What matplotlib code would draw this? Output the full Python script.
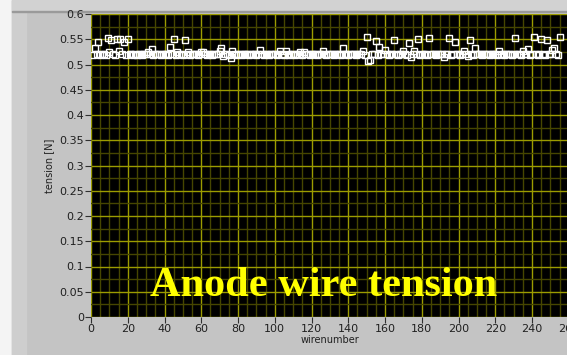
import numpy as np
import matplotlib.pyplot as plt
from matplotlib.patches import Rectangle

# wire tension measurements [N], wires 1..255
wires = list(range(1, 256))
tension = [
    0.519, 0.532, 0.520, 0.545, 0.519, 0.520, 0.521, 0.519, 0.553, 0.525, 0.549, 0.520, 0.519, 0.550, 0.527,
    0.550, 0.520, 0.545, 0.519, 0.550, 0.520, 0.521, 0.519, 0.520, 0.519, 0.521, 0.520, 0.519, 0.520, 0.521,
    0.525, 0.520, 0.531, 0.519, 0.520, 0.521, 0.520, 0.519, 0.520, 0.521, 0.520, 0.519, 0.534, 0.520, 0.550,
    0.519, 0.525, 0.520, 0.521, 0.519, 0.549, 0.520, 0.525, 0.519, 0.520, 0.521, 0.520, 0.519, 0.520, 0.525,
    0.525, 0.520, 0.519, 0.520, 0.521, 0.519, 0.520, 0.521, 0.520, 0.527, 0.532, 0.517, 0.520, 0.521, 0.519,
    0.512, 0.527, 0.520, 0.519, 0.521, 0.520, 0.519, 0.520, 0.521, 0.520, 0.519, 0.520, 0.521, 0.520, 0.519,
    0.520, 0.529, 0.520, 0.519, 0.521, 0.520, 0.519, 0.520, 0.521, 0.520, 0.519, 0.520, 0.527, 0.521, 0.519,
    0.527, 0.520, 0.519, 0.521, 0.520, 0.519, 0.520, 0.521, 0.524, 0.519, 0.525, 0.520, 0.521, 0.519, 0.520,
    0.521, 0.520, 0.519, 0.520, 0.521, 0.526, 0.520, 0.519, 0.520, 0.521, 0.520, 0.519, 0.520, 0.521, 0.520,
    0.519, 0.532, 0.520, 0.521, 0.519, 0.520, 0.521, 0.520, 0.519, 0.520, 0.521, 0.520, 0.527, 0.519, 0.555,
    0.507, 0.508, 0.520, 0.521, 0.547, 0.519, 0.534, 0.520, 0.521, 0.529, 0.520, 0.519, 0.520, 0.521, 0.549,
    0.520, 0.519, 0.520, 0.521, 0.526, 0.520, 0.519, 0.543, 0.515, 0.520, 0.526, 0.521, 0.550, 0.519, 0.520,
    0.521, 0.520, 0.519, 0.553, 0.520, 0.521, 0.520, 0.519, 0.520, 0.521, 0.520, 0.515, 0.520, 0.521, 0.552,
    0.519, 0.520, 0.545, 0.521, 0.520, 0.519, 0.520, 0.526, 0.521, 0.517, 0.549, 0.520, 0.519, 0.532, 0.520,
    0.521, 0.520, 0.519, 0.520, 0.521, 0.520, 0.519, 0.520, 0.521, 0.520, 0.519, 0.526, 0.520, 0.521, 0.519,
    0.520, 0.521, 0.520, 0.519, 0.520, 0.553, 0.521, 0.520, 0.519, 0.527, 0.520, 0.521, 0.531, 0.519, 0.520,
    0.554, 0.520, 0.519, 0.521, 0.550, 0.520, 0.519, 0.548, 0.520, 0.521, 0.528, 0.533, 0.520, 0.519, 0.555,
]
xticks = list(range(0, 261, 20))
yticks = [0, 0.05, 0.1, 0.15, 0.2, 0.25, 0.3, 0.35, 0.4, 0.45, 0.5, 0.55, 0.6]
ytick_labels = ["0", "0.05", "0.1", "0.15", "0.2", "0.25", "0.3", "0.35", "0.4", "0.45", "0.5", "0.55", "0.6"]

W, H = 567, 355
fig = plt.figure(figsize=(W / 100, H / 100), dpi=100)
fig.patch.set_facecolor("#f4f4f4")

# grey panel frame
fig.patches.append(Rectangle((12 / W, 0), 1, 1, transform=fig.transFigure, color="#c4c4c4", zorder=-5))
fig.patches.append(Rectangle((12 / W, 0), 14 / W, 1, transform=fig.transFigure, color="#cecece", zorder=-5))
fig.patches.append(Rectangle((12 / W, 1 - 11 / H), 1, 11 / H, transform=fig.transFigure, color="#d2d2d2", zorder=-5))
fig.patches.append(Rectangle((12 / W, 1 - 12 / H), 1, 1.5 / H, transform=fig.transFigure, color="#9a9a9a", zorder=-5))

ax = fig.add_axes([91 / W, 1 - 317 / H, 260 * 1.8375 / W, 303 / H])
ax.set_zorder(2)
ax.set_facecolor("black")
ax.plot(wires, tension, ls="none", marker="s", markersize=4.6, mfc="none",
        mec="white", mew=1.0, zorder=3)

ax.set_xlim(0, 260)
ax.set_ylim(0, 0.6)
ax.set_xticks(xticks)
ax.set_xticks(np.arange(0, 261, 5), minor=True)
ax.set_yticks(yticks)
ax.set_yticklabels(ytick_labels)
ax.set_yticks(np.arange(0, 0.601, 0.025), minor=True)
ax.grid(which="major", color="#9c9c00", lw=1.0)
ax.grid(which="minor", color="#464600", lw=1.0)
ax.set_axisbelow(True)
ax.tick_params(which="minor", length=0)
ax.tick_params(which="major", direction="out", length=4, color="#303030",
               labelsize=8, labelcolor="#202020", pad=1)
for s in ax.spines.values():
    s.set_visible(False)

ax.set_xlabel("wirenumber", fontsize=7, color="#202020", labelpad=1)
ax.set_ylabel("tension [N]", fontsize=7, color="#202020", labelpad=4)

ax.text(0.486, 0.068, "Anode wire tension", transform=ax.transAxes, ha="center",
        va="baseline", color="yellow", fontsize=30.5, fontweight="bold",
        family="Liberation Serif", zorder=5)

fig.savefig("out.png", dpi=100, facecolor=fig.get_facecolor())
